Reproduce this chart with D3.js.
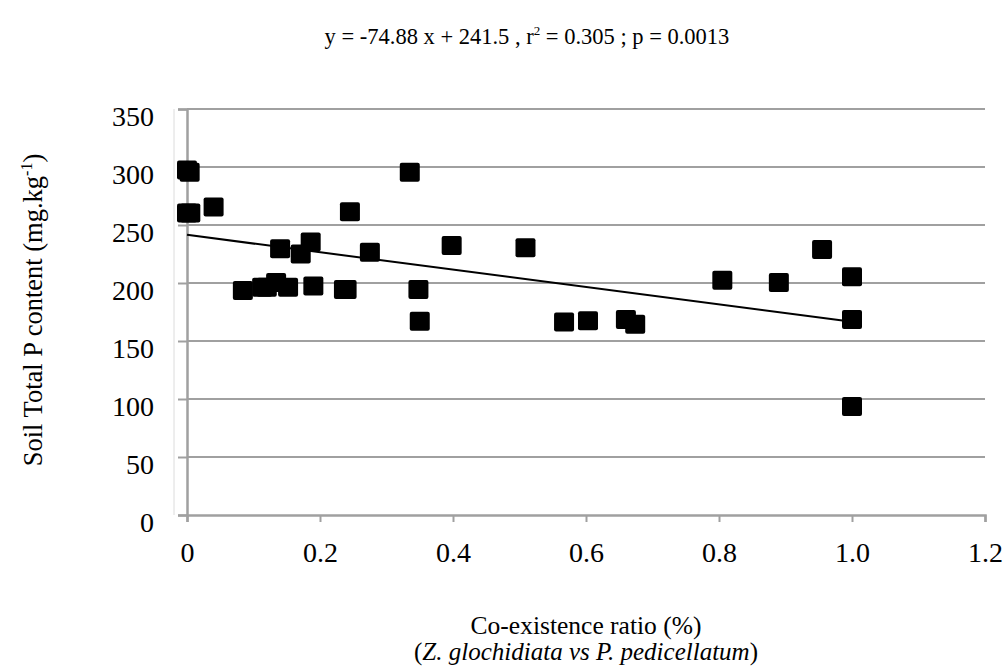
<!DOCTYPE html>
<html><head><meta charset="utf-8">
<script src="https://cdn.jsdelivr.net/npm/d3@7"></script>
<style>body{margin:0;background:#fff}svg{display:block}text{font-family:"Liberation Serif","Times New Roman",serif;fill:#000}</style>
</head><body>
<svg id="c" width="1007" height="671"></svg>
<script>
const xValues = [0, 0.004, 0, 0.005, 0.04, 0.084, 0.113, 0.12, 0.134, 0.14, 0.152, 0.171, 0.186, 0.19, 0.236, 0.24, 0.245, 0.275, 0.335, 0.348, 0.35, 0.398, 0.509, 0.567, 0.603, 0.66, 0.674, 0.805, 0.89, 0.955, 1.0, 1.0, 1.0];
const yValues = [297, 295, 260, 260, 265, 193, 196, 196, 200, 229, 196, 224.5, 235, 197, 194, 194, 261, 226, 295, 194, 166.6, 232, 230, 166, 167, 168, 164, 202, 200, 228.5, 205, 168, 93];
const slope = -74.88, intercept = 241.5;
const xTicks = [0, 0.2, 0.4, 0.6, 0.8, 1.0, 1.2];
const xTickLabels = ["0", "0.2", "0.4", "0.6", "0.8", "1.0", "1.2"];
const yTicks = [0, 50, 100, 150, 200, 250, 300, 350];

const svg = d3.select("#c");
const x = d3.scaleLinear().domain([0, 1.2]).range([187, 985]);
const y = d3.scaleLinear().domain([0, 350]).range([515, 109]);
const grey = "#a0a0a0";

// faint plot border on left
svg.append("line").attr("x1",174).attr("x2",174).attr("y1",y(350)).attr("y2",y(0)).attr("stroke","#dcdcdc").attr("stroke-width",1);

// gridlines
svg.append("g").selectAll("line").data(yTicks.filter(d=>d>0)).join("line")
  .attr("x1", x(0)).attr("x2", x(1.2)).attr("y1", d=>y(d)).attr("y2", d=>y(d))
  .attr("stroke", grey).attr("stroke-width", 2);

// y axis
const yAxis = svg.append("g").attr("transform", `translate(${x(0)},0)`)
  .call(d3.axisLeft(y).tickValues(yTicks).tickSize(9).tickPadding(24).tickFormat(d3.format("d")));
yAxis.select(".domain").attr("stroke", grey).attr("stroke-width", 2.5);
yAxis.selectAll(".tick line").attr("stroke", grey).attr("stroke-width", 2);
yAxis.selectAll(".tick text").attr("font-size", 28).attr("font-family", "Liberation Serif").attr("dy", "0.6em");

// x axis
const xAxis = svg.append("g").attr("transform", `translate(0,${y(0)})`)
  .call(d3.axisBottom(x).tickValues(xTicks).tickSize(7).tickPadding(20).tickFormat((d,i)=>xTickLabels[i]));
xAxis.select(".domain").attr("stroke", grey).attr("stroke-width", 2.5);
xAxis.selectAll(".tick line").attr("stroke", grey).attr("stroke-width", 2);
xAxis.selectAll(".tick text").attr("font-size", 28).attr("font-family", "Liberation Serif");

// trend line
svg.append("line").attr("x1", x(0)).attr("y1", y(intercept)).attr("x2", x(1)).attr("y2", y(intercept + slope))
  .attr("stroke", "#000").attr("stroke-width", 2);

// points
const pts = xValues.map((v,i)=>({x:v, y:yValues[i]}));
svg.append("g").selectAll("rect").data(pts).join("rect")
  .attr("x", d=>x(d.x)-10).attr("y", d=>y(d.y)-10).attr("width", 20).attr("height", 19)
  .attr("rx", 2).attr("fill", "#000");

// title
const t = svg.append("text").attr("x", 527).attr("y", 44).attr("text-anchor", "middle").attr("font-size", 22.5);
t.append("tspan").text("y = -74.88 x + 241.5 , r");
t.append("tspan").attr("font-size", 13).attr("dy", -9).text("2");
t.append("tspan").attr("dy", 9).text(" = 0.305 ; p = 0.0013");

// y label
const yl = svg.append("text").attr("transform", "translate(42,310) rotate(-90)").attr("text-anchor", "middle").attr("font-size", 26.5);
yl.append("tspan").text("Soil Total P content (mg.kg");
yl.append("tspan").attr("font-size", 16).attr("dy", -10).text("-1");
yl.append("tspan").attr("dy", 10).text(")");

// x label
svg.append("text").attr("x", 586).attr("y", 634).attr("text-anchor", "middle").attr("font-size", 25.5).text("Co-existence ratio (%)");
const xl2 = svg.append("text").attr("x", 586).attr("y", 660).attr("text-anchor", "middle").attr("font-size", 25);
xl2.append("tspan").text("(");
xl2.append("tspan").attr("font-style", "italic").text("Z. glochidiata vs P. pedicellatum");
xl2.append("tspan").text(")");
</script>
</body></html>
